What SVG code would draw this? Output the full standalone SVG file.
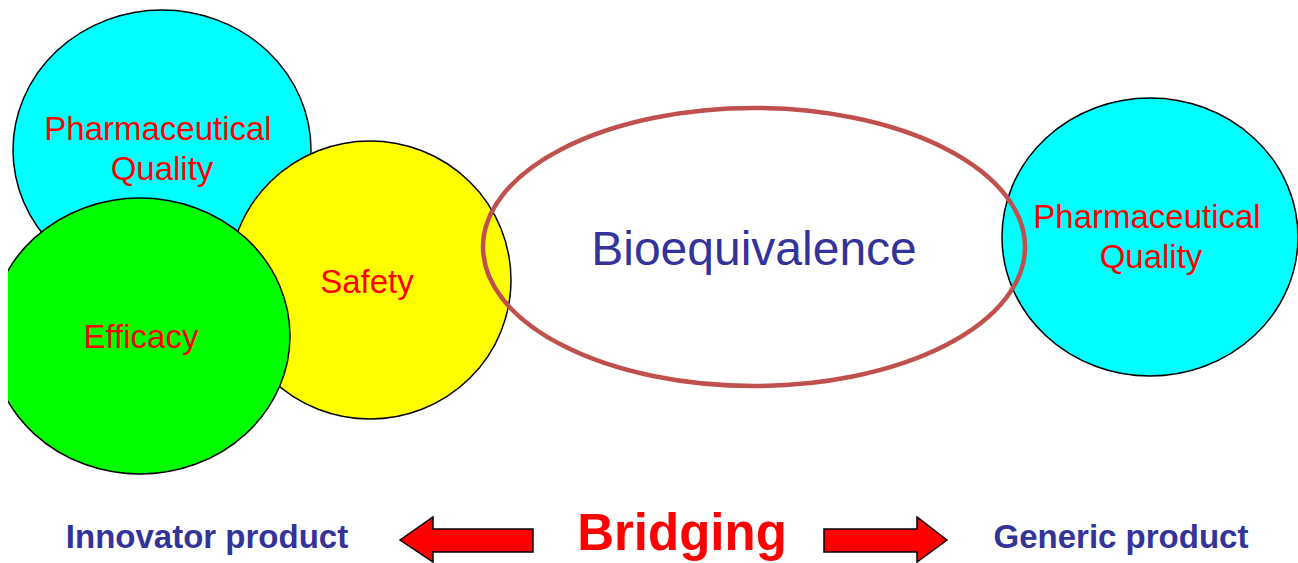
<svg xmlns="http://www.w3.org/2000/svg" width="1298" height="563" viewBox="0 0 1298 563">
<style>
.c{stroke:#000;stroke-width:1.5}
.lbl{font-family:"Liberation Sans",Arial,sans-serif;font-size:33px;fill:#ff0000;text-anchor:middle}
.blue{font-family:"Liberation Sans",Arial,sans-serif;fill:#333399;text-anchor:middle}
.arr{fill:#ff0000;stroke:#000;stroke-width:1.5;stroke-linejoin:miter}
</style>
<defs>
<clipPath id="clipL"><rect x="8" y="0" width="1290" height="563"/></clipPath>
</defs>
<rect width="1298" height="563" fill="#fff"/>
<g id="quality-left">
<ellipse class="c" cx="162" cy="150" rx="149" ry="140" fill="#00ffff"/>
<text class="lbl" x="158" y="140">Pharmaceutical</text>
<text class="lbl" x="162" y="180">Quality</text>
</g>
<g id="safety">
<ellipse class="c" cx="370" cy="280" rx="141" ry="139" fill="#ffff00"/>
<text class="lbl" x="367" y="293">Safety</text>
</g>
<g id="efficacy" clip-path="url(#clipL)">
<ellipse class="c" cx="140" cy="336" rx="150" ry="138" fill="#00ff00"/>
<text class="lbl" x="141" y="348">Efficacy</text>
</g>
<g id="quality-right">
<ellipse class="c" cx="1150" cy="237" rx="148" ry="139" fill="#00ffff"/>
<text class="lbl" x="1147" y="228">Pharmaceutical</text>
<text class="lbl" x="1151" y="268">Quality</text>
</g>
<g id="bioequivalence">
<ellipse cx="754" cy="247" rx="271" ry="139" fill="none" stroke="#c0504d" stroke-width="4.5"/>
<text class="blue" x="754" y="265" font-size="48">Bioequivalence</text>
</g>
<g id="innovator">
<text class="blue" x="207" y="548" font-size="33" font-weight="bold">Innovator product</text>
</g>
<g id="generic">
<text class="blue" x="1121" y="548" font-size="33" font-weight="bold">Generic product</text>
</g>
<g id="bridging">
<text x="682" y="550" font-family="'Liberation Sans',Arial,sans-serif" font-size="51" font-weight="bold" fill="#ff0000" text-anchor="middle">Bridging</text>
</g>
<g id="connectors">
<polygon class="arr" points="400,540 433,517 433,529 533,529 533,552 433,552 433,562"/>
<polygon class="arr" points="947,540 917,517 917,529 824,529 824,552 917,552 917,562"/>
</g>
</svg>
